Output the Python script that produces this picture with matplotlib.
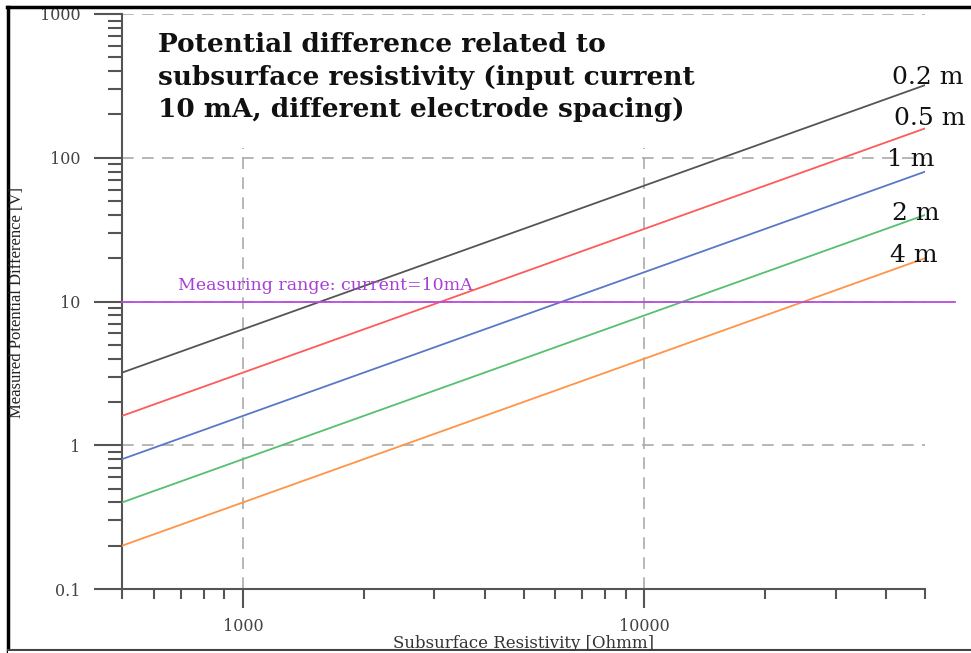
import matplotlib.pyplot as plt
from matplotlib.ticker import LogLocator, FixedLocator, NullFormatter
from matplotlib.patches import Rectangle
from matplotlib.lines import Line2D

# resistivity range (Ohmm) at the two ends of each line
resistivity = [500, 50000]

# measured potential difference (V) at 500 and 50000 Ohmm, per electrode spacing
spacing_labels = ['0.2 m', '0.5 m', '1 m', '2 m', '4 m']
v_02 = [3.2, 320]
v_05 = [1.6, 160]
v_1 = [0.8, 80]
v_2 = [0.4, 40]
v_4 = [0.2, 20]
series = [v_02, v_05, v_1, v_2, v_4]
colors = ['#555555', '#ff5a5a', '#5a78c8', '#55c070', '#ff9448']
# label offsets from line end, in pixels
label_offsets = [(3, 8), (5, 10), (-14, 12), (-9, 1), (-11, 3)]

limit_v = 10
limit_text = 'Measuring range: current=10mA'

y_ticks = [0.1, 1, 10, 100, 1000]
y_ticklabels = ['0.1', '1', '10', '100', '1000']
x_ticks = [1000, 10000]
x_ticklabels = ['1000', '10000']

serif = ['DejaVu Serif']
tick_col = '#555555'

fig = plt.figure(figsize=(9.71, 6.53), dpi=100)
W, H = 971, 653
ax = fig.add_axes([122 / W, 1 - 589 / H, (925 - 122) / W, (589 - 14) / H])
ax.set_xscale('log')
ax.set_yscale('log')
ax.set_xlim(500, 50000)
ax.set_ylim(0.1, 1000)

for s in ['top', 'right']:
    ax.spines[s].set_visible(False)
for s in ['left', 'bottom']:
    ax.spines[s].set_color(tick_col)
    ax.spines[s].set_linewidth(1.5)

ax.xaxis.set_major_locator(FixedLocator(x_ticks))
ax.set_xticklabels(x_ticklabels)
ax.xaxis.set_minor_locator(LogLocator(base=10, subs=range(2, 10)))
ax.xaxis.set_minor_formatter(NullFormatter())
ax.yaxis.set_major_locator(FixedLocator(y_ticks))
ax.set_yticklabels(y_ticklabels)
ax.yaxis.set_minor_locator(LogLocator(base=10, subs=range(2, 10)))
ax.yaxis.set_minor_formatter(NullFormatter())

ax.tick_params(axis='x', which='major', length=14, width=1.5, color=tick_col, pad=7)
ax.tick_params(axis='x', which='minor', length=7, width=1.5, color=tick_col)
ax.tick_params(axis='y', which='major', length=20, width=1.5, color=tick_col, pad=10)
ax.tick_params(axis='y', which='minor', length=10, width=1.5, color=tick_col)
for lab in ax.get_xticklabels() + ax.get_yticklabels():
    lab.set_family(serif)
    lab.set_fontsize(11.5)
    lab.set_color('#444444')

ax.grid(True, which='major', linestyle=(0, (7, 5)), color='#aaaaaa', linewidth=1.2)
ax.set_axisbelow(True)

# white block behind the title hides the upper part of the vertical grid
ax.add_patch(Rectangle(((150 - 122) / 803, (589 - 148) / 575), (712 - 150) / 803,
                       (148 - 17) / 575, transform=ax.transAxes,
                       facecolor='white', edgecolor='none', zorder=1.5))

for vals, lab, col, off in zip(series, spacing_labels, colors, label_offsets):
    ax.plot(resistivity, vals, color=col, linewidth=1.3, zorder=3)
    ax.annotate(lab, (resistivity[-1], vals[-1]), xytext=off,
                textcoords='offset pixels', ha='center', va='center',
                fontsize=18, family=serif, color='#111111', zorder=4)

ax.axhline(limit_v, xmin=0, xmax=(955 - 122) / 803, color='#b84ce0',
           linewidth=1.3, clip_on=False, zorder=3)
ax.text(690, limit_v * 1.12, limit_text, color='#a83ed8', fontsize=12.5,
        family=serif, ha='left', va='bottom', zorder=4)

ax.text((158 - 122) / 803, (589 - 32) / 575,
        'Potential difference related to\nsubsurface resistivity (input current\n10 mA, different electrode spacing)',
        transform=ax.transAxes, ha='left', va='top', fontsize=19,
        fontweight='bold', family=serif, linespacing=1.38, color='#111111', zorder=4)

fig.text(17 / W, 1 - 302 / H, 'Measured Potential Difference [V]', rotation=90,
         ha='center', va='center', fontsize=12, family=['Liberation Serif'],
         color='#222222')
fig.text(523 / W, 1 - 635 / H, 'Subsurface Resistivity [Ohmm]', ha='center',
         va='top', fontsize=12, family=serif, color='#333333')

# page border
fig.add_artist(Line2D([7 / W, 1], [1 - 7 / H, 1 - 7 / H], color='black', linewidth=2.5))
fig.add_artist(Line2D([8 / W, 8 / W], [0, 1 - 7 / H], color='black', linewidth=2.5))
fig.add_artist(Line2D([8 / W, 1], [1 - 650 / H, 1 - 650 / H], color='#444444', linewidth=1.5))
fig.patches.append(Rectangle((8 / W, 0), 1, 1 - 651 / H, transform=fig.transFigure,
                             facecolor='white', edgecolor='none', zorder=5))

fig.savefig('out.png', dpi=100)
